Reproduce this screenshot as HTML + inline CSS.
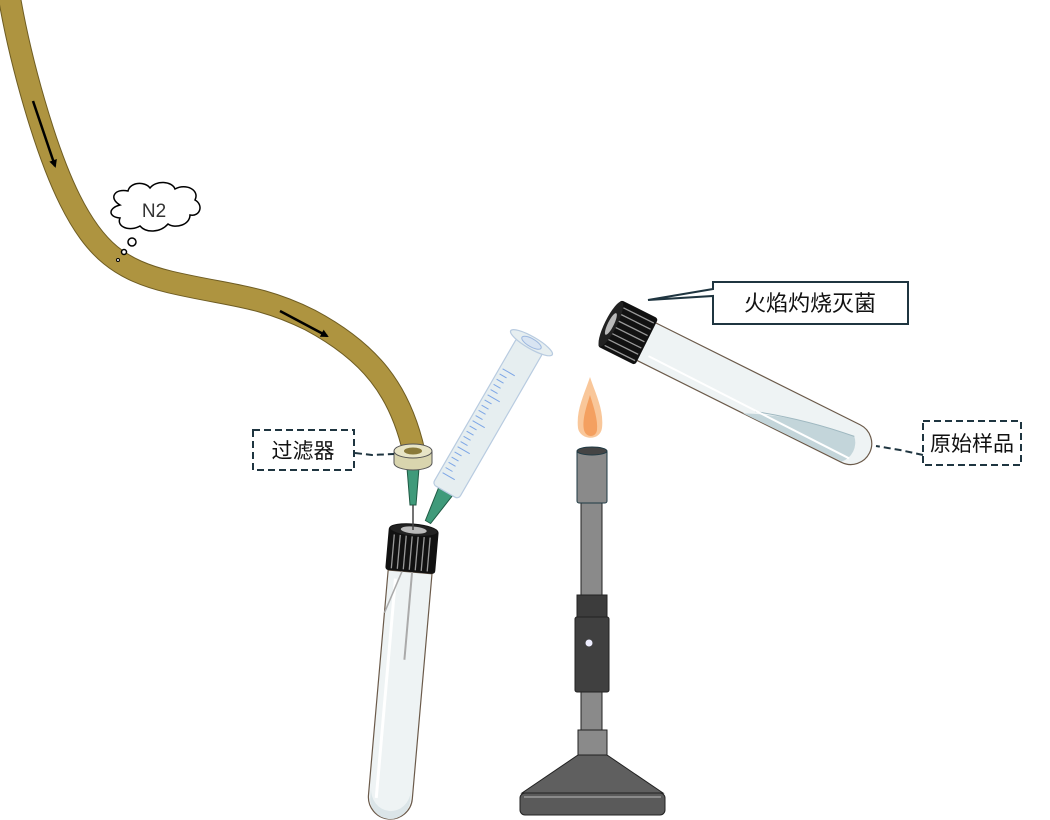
<!DOCTYPE html>
<html><head><meta charset="utf-8"><style>
html,body{margin:0;padding:0;background:#fff;width:1050px;height:820px;overflow:hidden}
svg text{font-family:"Liberation Sans","Noto Sans CJK SC",sans-serif}
</style></head><body>
<svg width="1050" height="820" viewBox="0 0 1050 820" xmlns="http://www.w3.org/2000/svg">
<defs>
<marker id="ah" markerWidth="8" markerHeight="8" refX="6" refY="4" orient="auto" markerUnits="userSpaceOnUse" viewBox="0 0 8 8"><path d="M0,0 L8,4 L0,8 z" fill="#000"/></marker>
</defs>
<!-- hose -->
<path d="M9,-5 C20,60 45,150 70,200 C95,250 120,270 170,282 C230,296 260,295 310,320 C370,352 400,390 414,452" fill="none" stroke="#6e5c22" stroke-width="23"/>
<path d="M9,-5 C20,60 45,150 70,200 C95,250 120,270 170,282 C230,296 260,295 310,320 C370,352 400,390 414,452" fill="none" stroke="#ae9440" stroke-width="21"/>
<line x1="33" y1="101" x2="55" y2="166" stroke="#000" stroke-width="2.5" marker-end="url(#ah)"/>
<line x1="280" y1="311" x2="327" y2="336" stroke="#000" stroke-width="2.5" marker-end="url(#ah)"/>
<!-- cloud -->
<path d="M120,205 C108,198 115,188 128,191 C130,182 145,181 150,188 C156,180 172,181 175,189 C186,183 200,190 195,200 C204,205 200,217 190,215 C190,225 175,229 168,224 C160,233 146,233 140,226 C130,232 116,227 120,218 C108,217 108,208 120,205 Z" fill="#fff" stroke="#000" stroke-width="1.5"/>
<text x="154" y="217" font-size="19" fill="#333" text-anchor="middle">N2</text>
<circle cx="132" cy="242" r="4" fill="#fff" stroke="#000" stroke-width="1.5"/>
<circle cx="124" cy="252" r="2.5" fill="#fff" stroke="#000" stroke-width="1.5"/>
<circle cx="118" cy="260" r="1.5" fill="#fff" stroke="#000" stroke-width="1"/>
<!-- syringe -->
<g transform="translate(428,522) rotate(30)">
 <polygon points="-3,0 3,0 8,-35 -8,-35" fill="#3f9a7a" stroke="#1f5a44" stroke-width="1"/>
 <rect x="-15" y="-205" width="30" height="170" rx="4" fill="#e6eef0" stroke="#b8cbe0" stroke-width="1.2"/>
 <g stroke="#7da6e6" stroke-width="1">
  <line x1="-12" y1="-50" x2="2" y2="-50"/><line x1="-12" y1="-56" x2="-4" y2="-56"/><line x1="-12" y1="-62" x2="-4" y2="-62"/><line x1="-12" y1="-68" x2="-4" y2="-68"/><line x1="-12" y1="-74" x2="-4" y2="-74"/><line x1="-12" y1="-80" x2="2" y2="-80"/><line x1="-12" y1="-86" x2="-4" y2="-86"/><line x1="-12" y1="-92" x2="-4" y2="-92"/><line x1="-12" y1="-98" x2="-4" y2="-98"/><line x1="-12" y1="-104" x2="-4" y2="-104"/><line x1="-12" y1="-110" x2="2" y2="-110"/><line x1="-12" y1="-116" x2="-4" y2="-116"/><line x1="-12" y1="-122" x2="-4" y2="-122"/><line x1="-12" y1="-128" x2="-4" y2="-128"/><line x1="-12" y1="-134" x2="-4" y2="-134"/><line x1="-12" y1="-140" x2="2" y2="-140"/><line x1="-12" y1="-146" x2="-4" y2="-146"/><line x1="-12" y1="-152" x2="-4" y2="-152"/><line x1="-12" y1="-158" x2="-4" y2="-158"/><line x1="-12" y1="-164" x2="-4" y2="-164"/><line x1="-12" y1="-170" x2="2" y2="-170"/>
 </g>
 <ellipse cx="0" cy="-207" rx="24" ry="6" fill="#e6eef0" stroke="#b8cbe0" stroke-width="1.2"/>
 <ellipse cx="0" cy="-207" rx="11" ry="4" fill="#d8e4f2" stroke="#9db8e0" stroke-width="1"/>
</g>
<!-- filter -->
<polygon points="407,468 419,468 416,505 410,505" fill="#3f9a7a" stroke="#1f5a44" stroke-width="1"/>
<path d="M394,451 L394,463 A19,7 0 0 0 432,463 L432,451 Z" fill="#d9d5ae" stroke="#555" stroke-width="1"/>
<ellipse cx="413" cy="451" rx="19" ry="7" fill="#e8e5c6" stroke="#555" stroke-width="1"/>
<ellipse cx="413" cy="451" rx="9" ry="3.5" fill="#8a7a3a"/>
<!-- tube 1 -->
<g transform="translate(412,550) rotate(5)">
 <path d="M-22,22 L-22,248 A22,22 0 0 0 22,248 L22,22 Z" fill="#eef3f4" stroke="#6b5a4a" stroke-width="1.2"/>
 <path d="M-20,240 A20,22 0 0 0 20,240 L20,250 A20,20 0 0 1 -20,250 Z" fill="#dbe5e8"/>
 <line x1="-14" y1="30" x2="-14" y2="250" stroke="#fff" stroke-width="3"/>
 <line x1="2" y1="22" x2="2" y2="110" stroke="#aaa" stroke-width="2"/>
 <line x1="-8" y1="22" x2="-22" y2="65" stroke="#aaa" stroke-width="1.5"/>
 <rect x="-25" y="-22" width="50" height="44" rx="3" fill="#111"/>
 <g stroke="#999" stroke-width="1.3">
  <line x1="-19" y1="-14" x2="-19" y2="20"/><line x1="-13" y1="-14" x2="-13" y2="20"/><line x1="-7" y1="-14" x2="-7" y2="20"/><line x1="-1" y1="-14" x2="-1" y2="20"/><line x1="5" y1="-14" x2="5" y2="20"/><line x1="11" y1="-14" x2="11" y2="20"/><line x1="17" y1="-14" x2="17" y2="20"/>
 </g>
 <ellipse cx="0" cy="-20" rx="24" ry="6" fill="#222" stroke="#111"/>
 <ellipse cx="0" cy="-20" rx="13" ry="3.5" fill="#bbb"/>
</g>
<line x1="413" y1="505" x2="413" y2="530" stroke="#444" stroke-width="1.5"/>
<!-- burner -->
<path d="M590,377 C584,395 576,410 578,428 C580,440 600,442 602,428 C604,410 596,395 590,377 Z" fill="#f9c79a"/>
<path d="M590,395 C586,408 582,420 584,430 C586,438 596,438 597,430 C598,420 594,408 590,395 Z" fill="#f4a060"/>
<rect x="581" y="503" width="21" height="92" fill="#8a8a8a" stroke="#222"/>
<rect x="581" y="692" width="21" height="38" fill="#8a8a8a" stroke="#222"/>
<rect x="577" y="450" width="30" height="53" rx="2" fill="#8a8a8a" stroke="#1f3a44"/>
<ellipse cx="592" cy="451" rx="15" ry="4" fill="#444" stroke="#1f3a44"/>
<rect x="577" y="595" width="30" height="22" fill="#3c3c3c" stroke="#222"/>
<rect x="575" y="617" width="34" height="75" rx="2" fill="#404040" stroke="#222"/>
<circle cx="589" cy="643" r="3.5" fill="#eef"/>
<rect x="578" y="730" width="29" height="27" fill="#8a8a8a" stroke="#222"/>
<polygon points="578,755 607,755 663,793 522,793" fill="#5f5f5f" stroke="#222"/>
<rect x="520" y="793" width="145" height="22" rx="5" fill="#5a5a5a" stroke="#222"/>
<line x1="524" y1="797" x2="661" y2="797" stroke="#999" stroke-width="1.5"/>
<!-- tube 2 -->
<g transform="translate(627,332) rotate(26.5)">
 <path d="M20,-21 L250,-21 A21,21 0 0 1 250,21 L20,21 Z" fill="#eef3f4" stroke="#6b5a4a" stroke-width="1.2"/>
 <path d="M140,21 Q190,-2 250,-8 A20,20 0 0 1 250,20 Z" fill="#c3d5da"/>
 <path d="M150,14 Q200,-2 250,-8" fill="none" stroke="#9fb8c0" stroke-width="1"/>
 <line x1="30" y1="12" x2="255" y2="14" stroke="#fff" stroke-width="2"/>
 <rect x="-20" y="-26" width="42" height="52" rx="3" fill="#111"/>
 <g stroke="#999" stroke-width="1.3">
  <line x1="-14" y1="-20" x2="20" y2="-20"/><line x1="-14" y1="-13" x2="20" y2="-13"/><line x1="-14" y1="-6" x2="20" y2="-6"/><line x1="-14" y1="1" x2="20" y2="1"/><line x1="-14" y1="8" x2="20" y2="8"/><line x1="-14" y1="15" x2="20" y2="15"/><line x1="-14" y1="22" x2="20" y2="22"/>
 </g>
 <ellipse cx="-18" cy="0" rx="6" ry="25" fill="#222"/>
 <ellipse cx="-18" cy="0" rx="3" ry="12" fill="#bbb"/>
</g>
<!-- labels -->
<path d="M648,300 L713,289 L713,282 L908,282 L908,324 L713,324 L713,296 Z" fill="#fff" stroke="#1f3540" stroke-width="2"/>
<text x="810" y="311" font-size="22" fill="#111" text-anchor="middle">火焰灼烧灭菌</text>
<rect x="923" y="421" width="98" height="44" fill="#fff" stroke="#1f3540" stroke-width="2" stroke-dasharray="7,4"/>
<text x="972" y="451" font-size="21" fill="#111" text-anchor="middle">原始样品</text>
<path d="M923,455 L900,450 L876,446" fill="none" stroke="#1f3540" stroke-width="2" stroke-dasharray="7,4"/>
<rect x="253" y="430" width="101" height="40" fill="#fff" stroke="#1f3540" stroke-width="2" stroke-dasharray="7,4"/>
<text x="303" y="458" font-size="21" fill="#111" text-anchor="middle">过滤器</text>
<path d="M355,453 L372,455 L394,454" fill="none" stroke="#1f3540" stroke-width="2" stroke-dasharray="7,4"/>
</svg>
</body></html>
